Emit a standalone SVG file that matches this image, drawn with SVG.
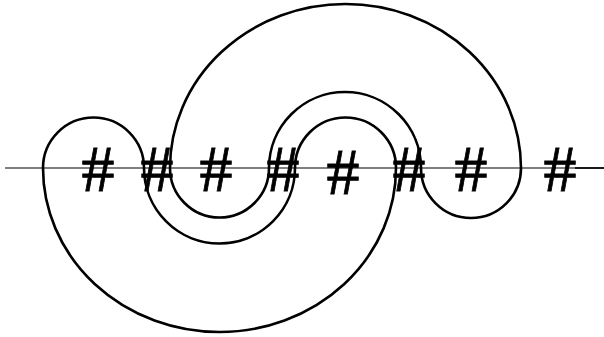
<svg xmlns="http://www.w3.org/2000/svg" width="604" height="337" viewBox="0 0 604 337">
<style>
.h{font-family:"Liberation Serif","Times New Roman",serif;font-size:66px;fill:#000;stroke:#000;stroke-width:0.8;text-anchor:middle}
.c{fill:none;stroke:#000;stroke-width:2.6}
</style>
<rect width="604" height="337" fill="#fff"/>
<g id="labels">
<text class="h" x="98" y="191">#</text>
<text class="h" x="157" y="191">#</text>
<text class="h" x="216" y="191">#</text>
<text class="h" x="283" y="191">#</text>
<text class="h" x="343" y="194">#</text>
<text class="h" x="409" y="191">#</text>
<text class="h" x="471" y="191">#</text>
<text class="h" x="560" y="191">#</text>
</g>
<g id="connectors">
<path d="M5 168H575" fill="none" stroke="#000" stroke-width="1.2"/>
<path d="M575 168H604" fill="none" stroke="#000" stroke-width="1.8"/>
<path class="c" d="M43 168A50.500 50.500 0 0 1 144 168A75.500 75.500 0 0 0 295 168A50.500 50.500 0 0 1 396 168A176.500 164 0 0 1 43 168Z"/>
<path class="c" d="M170 168A175.500 164 0 0 1 521 168A50 50 0 0 1 421 168A76 76 0 0 0 269 168A49.500 49.500 0 0 1 170 168Z"/>
</g>
</svg>
